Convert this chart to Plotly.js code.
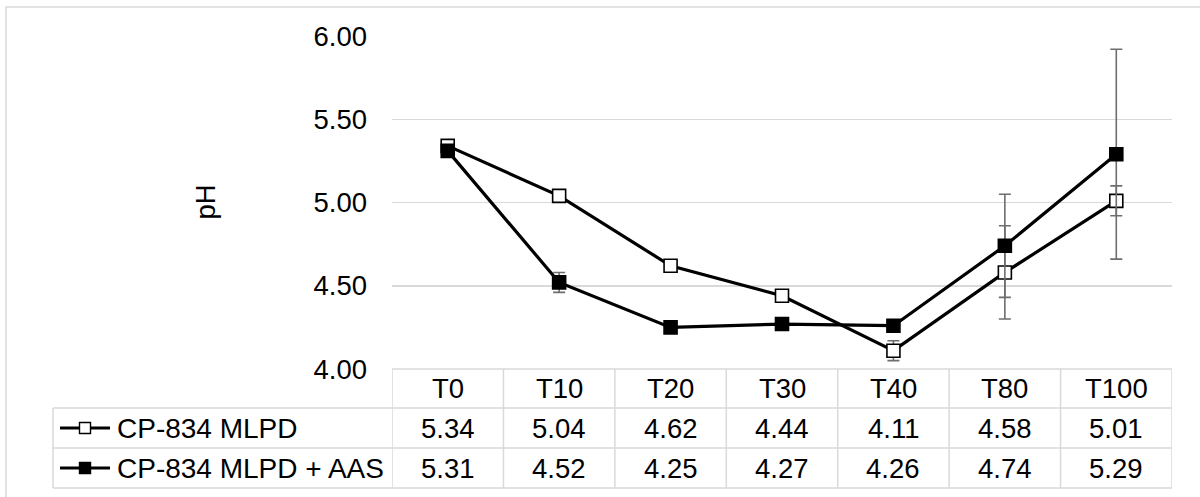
<!DOCTYPE html>
<html>
<head>
<meta charset="utf-8">
<script src="https://cdn.plot.ly/plotly-3.0.1.min.js"></script>
<style>
  html, body { margin: 0; padding: 0; background: #fff; }
  #chart { width: 1200px; height: 497px; }
</style>
</head>
<body>
<div id="chart"></div>
<script>
// Sampling times and pH readings for the two formulations
const categories = ['T0', 'T10', 'T20', 'T30', 'T40', 'T80', 'T100'];
const seriesNames = ['CP-834 MLPD', 'CP-834 MLPD + AAS'];
const phMlpd = [5.34, 5.04, 4.62, 4.44, 4.11, 4.58, 5.01];
const phMlpdAas = [5.31, 4.52, 4.25, 4.27, 4.26, 4.74, 5.29];
// Standard deviations shown as error bars
const sdMlpd = [0.01, 0.01, 0.01, 0.03, 0.06, 0.28, 0.09];
const sdMlpdAas = [0.01, 0.06, 0.01, 0.03, 0.01, 0.31, 0.63];
const yTicks = [4.0, 4.5, 5.0, 5.5, 6.0];
const yTitle = 'pH';

// Page geometry (pixels)
const W = 1200, H = 497;
const plotLeft = 392, plotRight = 1172, plotTop = 36, plotBottom = 369;
const rowEdges = [369, 408, 448, 488];   // header / series 1 / series 2
const legendLeft = 53;
const px = v => v / W;
const py = v => 1 - v / H;

const FONT = 'Liberation Sans, Arial, sans-serif';
const GRID = '#d9d9d9';
const FS = 27.5;
const FS_KEY = 28;

function seriesTrace(name, y, sd, filled) {
  return {
    type: 'scatter',
    mode: 'lines+markers',
    name: name,
    x: categories,
    y: y,
    line: { color: '#000', width: 3.2 },
    marker: {
      symbol: 'square',
      size: 13,
      color: filled ? '#000' : '#fff',
      line: { color: '#000', width: 1.6 }
    },
    error_y: {
      type: 'data',
      array: sd,
      visible: true,
      color: '#6e6e6e',
      thickness: 1.6,
      width: 6
    },
    hoverinfo: 'x+y'
  };
}

const traces = [
  seriesTrace(seriesNames[0], phMlpd, sdMlpd, false),
  seriesTrace(seriesNames[1], phMlpdAas, sdMlpdAas, true)
];

const shapes = [];
const annotations = [];
const gline = { color: GRID, width: 1.5 };

// Outer chart frame
shapes.push({ type: 'rect', xref: 'paper', yref: 'paper',
  x0: px(6), x1: px(1215), y0: py(7), y1: py(520),
  line: { color: GRID, width: 1.5 }, fillcolor: 'rgba(0,0,0,0)', layer: 'below' });

// Data table: horizontal rules
shapes.push({ type: 'line', xref: 'paper', yref: 'paper',
  x0: px(plotLeft), x1: px(plotRight), y0: py(rowEdges[0]), y1: py(rowEdges[0]), line: gline });
for (let r = 1; r < rowEdges.length; r++) {
  shapes.push({ type: 'line', xref: 'paper', yref: 'paper',
    x0: px(legendLeft), x1: px(plotRight), y0: py(rowEdges[r]), y1: py(rowEdges[r]), line: gline });
}
// Data table: vertical rules at category boundaries
for (let i = 0; i <= categories.length; i++) {
  shapes.push({ type: 'line', xref: 'x', yref: 'paper',
    x0: i - 0.5, x1: i - 0.5, y0: py(rowEdges[0]), y1: py(rowEdges[3]), line: gline });
}
shapes.push({ type: 'line', xref: 'paper', yref: 'paper',
  x0: px(legendLeft), x1: px(legendLeft), y0: py(rowEdges[1]), y1: py(rowEdges[3]), line: gline });

// Header row and value rows
const rowCenter = r => (rowEdges[r] + rowEdges[r + 1]) / 2;
categories.forEach((c, i) => {
  annotations.push({ xref: 'x', yref: 'paper', x: i, y: py(rowCenter(0)),
    text: c, showarrow: false, xanchor: 'center', yanchor: 'middle',
    font: { family: FONT, size: FS, color: '#000' } });
});
[phMlpd, phMlpdAas].forEach((vals, s) => {
  vals.forEach((v, i) => {
    annotations.push({ xref: 'x', yref: 'paper', x: i, y: py(rowCenter(s + 1)),
      text: v.toFixed(2), showarrow: false, xanchor: 'center', yanchor: 'middle',
      font: { family: FONT, size: FS, color: '#000' } });
  });
  // legend key: line with square marker, then series name
  const yc = py(rowCenter(s + 1));
  shapes.push({ type: 'line', xref: 'paper', yref: 'paper',
    x0: px(60), x1: px(110), y0: yc, y1: yc, line: { color: '#000', width: 3 } });
  shapes.push({ type: 'rect', xref: 'paper', yref: 'paper',
    x0: px(79.5), x1: px(90.5), y0: py(rowCenter(s + 1) + 5.5), y1: py(rowCenter(s + 1) - 5.5),
    line: { color: '#000', width: 1.4 }, fillcolor: s === 0 ? '#fff' : '#000' });
  annotations.push({ xref: 'paper', yref: 'paper', x: px(115), y: yc,
    text: seriesNames[s], showarrow: false, xanchor: 'left', yanchor: 'middle',
    font: { family: FONT, size: FS_KEY, color: '#000' } });
});

// Y axis title
annotations.push({ xref: 'paper', yref: 'paper', x: px(205), y: py((plotTop + plotBottom) / 2),
  text: yTitle, textangle: -90, showarrow: false, xanchor: 'center', yanchor: 'middle',
  font: { family: FONT, size: FS, color: '#000' } });

const layout = {
  width: W, height: H,
  margin: { l: 0, r: 0, t: 0, b: 0 },
  paper_bgcolor: '#fff', plot_bgcolor: '#fff',
  showlegend: false,
  xaxis: {
    type: 'category',
    domain: [px(plotLeft), px(plotRight)],
    range: [-0.5, categories.length - 0.5],
    showticklabels: false, showgrid: false, zeroline: false, showline: false,
    ticks: '', fixedrange: true
  },
  yaxis: {
    domain: [py(plotBottom), py(plotTop)],
    range: [4, 6],
    tickvals: yTicks,
    ticktext: yTicks.map(v => v.toFixed(2)),
    tickfont: { family: FONT, size: FS, color: '#000' },
    ticks: '',
    ticklabelstandoff: 24,
    showgrid: true, gridcolor: GRID, gridwidth: 1.5,
    zeroline: false, showline: false, fixedrange: true
  },
  shapes: shapes,
  annotations: annotations
};

Plotly.newPlot('chart', traces, layout, { displayModeBar: false, staticPlot: true });
</script>
</body>
</html>
